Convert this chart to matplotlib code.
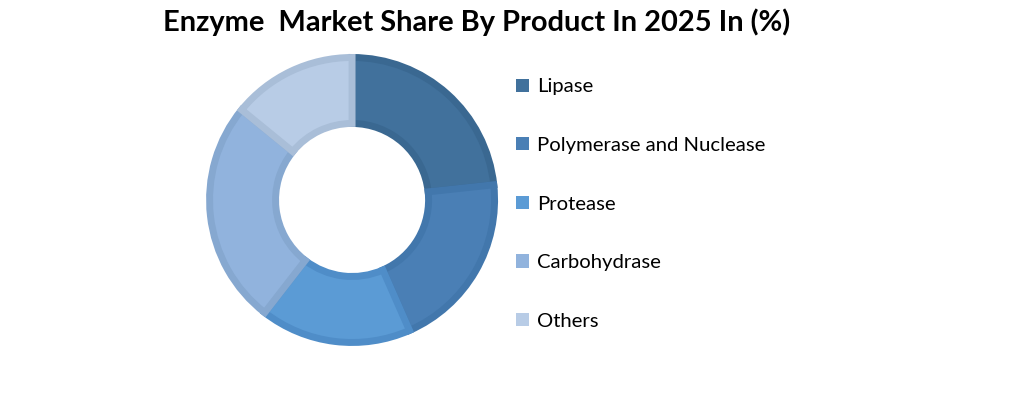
import matplotlib.pyplot as plt
from matplotlib.patches import Patch

# data
labels = ["Lipase", "Polymerase and Nuclease", "Protease", "Carbohydrase", "Others"]
shares = [23.3, 20.1, 17.1, 25.4, 14.1]
face_colors = ["#41719c", "#4a7fb5", "#5b9bd5", "#91b3dd", "#b8cce6"]
edge_colors = ["#3a6891", "#4277ac", "#4f8dc8", "#86a8d0", "#a9bed8"]

plt.rcParams['font.family'] = ['Lato', 'DejaVu Sans']

fig = plt.figure(figsize=(10.13, 4.04), dpi=100)

# donut axes: centre ~(352,200) px, outer radius ~146 px
ax = fig.add_axes([0.2034, 0.1436, 0.2883, 0.7228])
wedges, _ = ax.pie(shares, colors=face_colors, startangle=90, counterclock=False,
                   radius=0.976, wedgeprops=dict(width=0.452, linewidth=5))
for w, ec in zip(wedges, edge_colors):
    w.set_edgecolor(ec)
ax.set_xlim(-1, 1)
ax.set_ylim(-1, 1)
ax.set_aspect('equal')
ax.axis('off')

fig.text(0.4704, 0.945, "Enzyme  Market Share By Product In 2025 In (%)",
         ha='center', va='center', fontsize=20.9, fontweight='bold', color='black')

handles = [Patch(facecolor=c, edgecolor='none') for c in face_colors]
fig.legend(handles, labels, loc='upper left', bbox_to_anchor=(0.5015, 0.826),
           frameon=False, fontsize=14.6, handlelength=0.62, handleheight=0.62,
           handletextpad=0.4, labelspacing=2.05, borderaxespad=0)

fig.savefig("out.png", dpi=100)
